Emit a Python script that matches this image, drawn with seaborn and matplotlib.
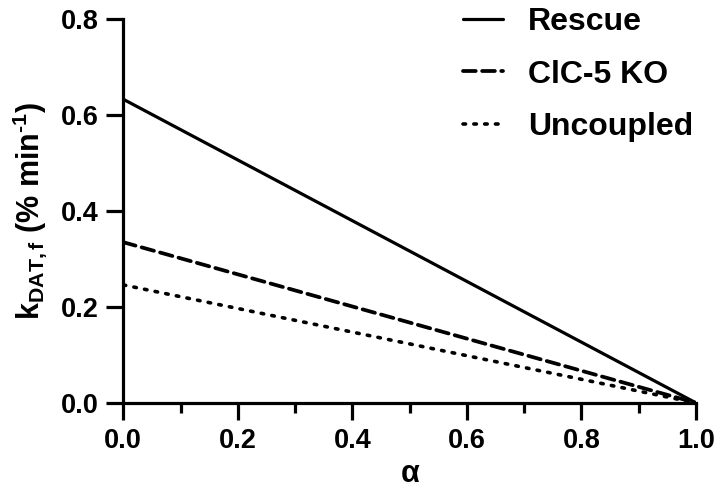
import matplotlib
matplotlib.use("Agg")
import matplotlib.pyplot as plt
from matplotlib.ticker import MultipleLocator, FormatStrFormatter
import seaborn as sns
import pandas as pd

alpha = [0.0, 1.0]
rescue = [0.633, 0.0]
clc5_ko = [0.335, 0.0]
uncoupled = [0.246, 0.0]
series_names = ["Rescue", "ClC-5 KO", "Uncoupled"]
legend_labels = ["Rescue", "ClC-5 KO", "Uncoupled"]

df = pd.concat([
    pd.DataFrame({"alpha": alpha, "k": vals, "series": name})
    for name, vals in zip(series_names, [rescue, clc5_ko, uncoupled])
], ignore_index=True)

sns.set_style("ticks")
plt.rcParams["font.family"] = ["Liberation Sans", "DejaVu Sans"]
plt.rcParams["font.weight"] = "bold"
plt.rcParams["text.color"] = "black"
plt.rcParams["axes.labelcolor"] = "black"
plt.rcParams["xtick.color"] = "black"
plt.rcParams["ytick.color"] = "black"
plt.rcParams["axes.edgecolor"] = "black"
plt.rcParams["mathtext.fontset"] = "custom"
plt.rcParams["mathtext.bf"] = "Liberation Sans:bold"
plt.rcParams["mathtext.rm"] = "Liberation Sans:bold"
plt.rcParams["mathtext.it"] = "Liberation Sans:bold:italic"
plt.rcParams["mathtext.default"] = "bf"

fig = plt.figure(figsize=(7.25, 5.03), dpi=100)
ax = fig.add_axes([0.170, 0.199, 0.790, 0.763])

lw = 2.3
sns.lineplot(data=df, x="alpha", y="k", style="series", style_order=series_names,
             dashes={"Rescue": "", "ClC-5 KO": (3.4, 1.7), "Uncoupled": (0.7, 2.3)},
             color="black", linewidth=lw, ax=ax, legend=True)
widths = [2.3, 2.7, 2.6]
for line, w in zip(ax.get_lines(), widths):
    line.set_dash_capstyle("round")
    line.set_linewidth(w)

ax.set_xlim(0, 1.0)
ax.set_ylim(0, 0.8)
ax.xaxis.set_major_locator(MultipleLocator(0.2))
ax.xaxis.set_minor_locator(MultipleLocator(0.1))
ax.yaxis.set_major_locator(MultipleLocator(0.2))
ax.tick_params(axis="both", which="major", length=12, width=2.3, labelsize=19.5, pad=6,
               colors="black")
ax.tick_params(axis="x", which="minor", length=7, width=2.3, colors="black")
ax.xaxis.set_major_formatter(FormatStrFormatter("%.1f"))
ax.yaxis.set_major_formatter(FormatStrFormatter("%.1f"))
for lab in ax.get_xticklabels() + ax.get_yticklabels():
    lab.set_fontweight("bold")

for s in ["top", "right"]:
    ax.spines[s].set_visible(False)
for s in ["left", "bottom"]:
    ax.spines[s].set_linewidth(2.3)
    ax.spines[s].set_color("black")

ax.set_xlabel("α", fontsize=22, fontweight="bold", labelpad=4, color="black")
ax.set_ylabel(r"k$_{\mathbf{DAT,f}}$ (% min$^{\mathbf{\text{-}1}}$)", fontsize=22,
              fontweight="bold", labelpad=8, color="black")

handles, _ = ax.get_legend_handles_labels()
leg = ax.legend(handles, legend_labels, loc="upper left", bbox_to_anchor=(0.593, 1.031),
                frameon=False, handlelength=1.25, handletextpad=0.78,
                borderpad=0, borderaxespad=0,
                labelspacing=0.7, prop={"weight": "bold", "size": 23})
for h, w in zip(leg.get_lines(), widths):
    h.set_linewidth(w)
    h.set_color("black")
    h.set_dash_capstyle("round")
for t in leg.get_texts():
    t.set_color("black")

fig.savefig("out.png", dpi=100)
